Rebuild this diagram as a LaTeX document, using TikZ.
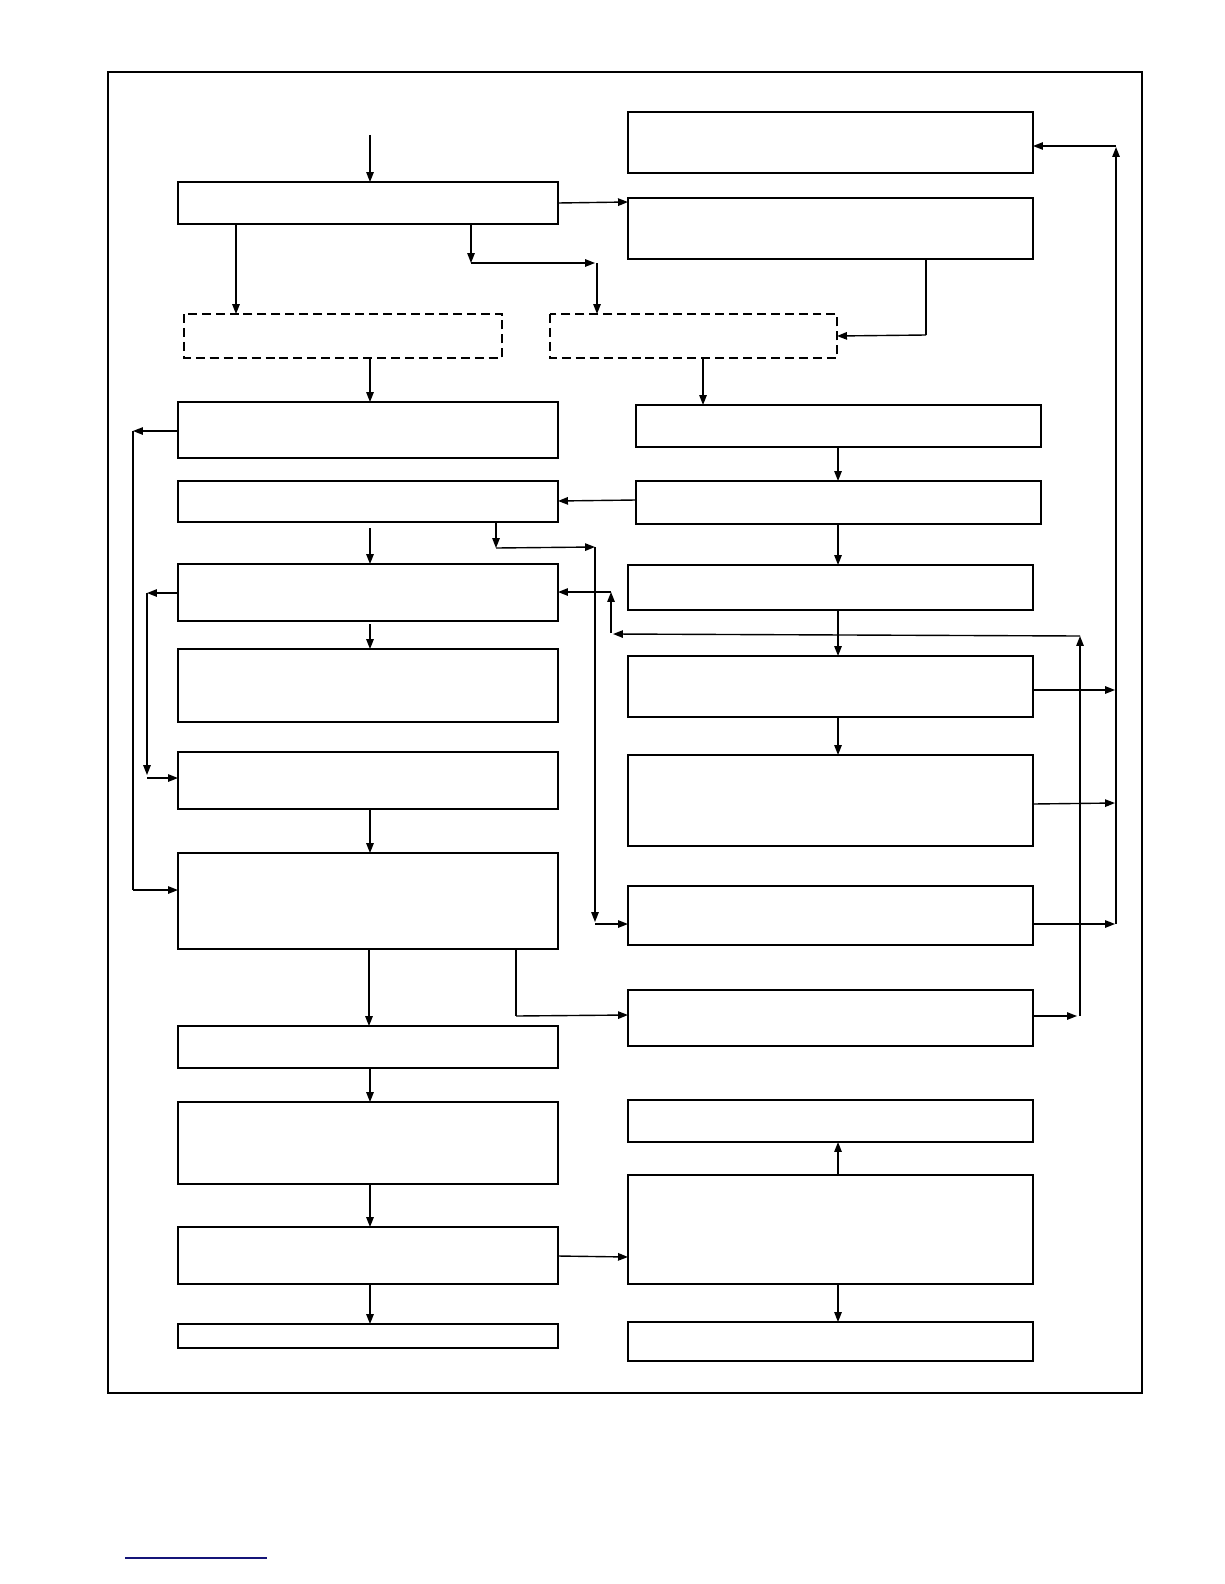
\documentclass[tikz,border=0pt]{standalone}
\usetikzlibrary{arrows.meta}
\begin{document}
\begin{tikzpicture}[x=1bp,y=-1bp,line width=1.6pt,
  bx/.style={draw,line width=1.5pt},
  dbx/.style={draw,line width=1.5pt,dash pattern=on 9pt off 5pt},
  ar/.style={-{Triangle[length=10pt,width=7.5pt]},line width=1.4pt},
  ln/.style={line width=1.4pt}]
\useasboundingbox (0,0) rectangle (1224,1584);
\draw[line width=2pt] (108,72) rectangle (1142,1393);
\draw[line width=2pt,draw={rgb,255:red,20;green,20;blue,120}] (125,1558) -- (267,1558);
% boxes
\foreach \n/\a/\b/\c/\d in {L1/178/182/558/224,L2/178/402/558/458,L3/178/481/558/522,L4/178/564/558/621,L5/178/649/558/722,L6/178/752/558/809,L7/178/853/558/949,L8/178/1026/558/1068,L9/178/1102/558/1184,L10/178/1227/558/1284,L11/178/1324/558/1348,R1/628/112/1033/173,R2/628/198/1033/259,R3/636/405/1041/447,R4/636/481/1041/524,R5/628/565/1033/610,R6/628/656/1033/717,R7/628/755/1033/846,R8/628/886/1033/945,R9/628/990/1033/1046,R10/628/1100/1033/1142,R11/628/1175/1033/1284,R12/628/1322/1033/1361}
  {\draw[bx] (\a,\b) rectangle (\c,\d); \coordinate (\n) at ({(\a+\c)/2},{(\b+\d)/2});}
\draw[dbx] (184,314) rectangle (502,358);
\draw[dbx] (550,314) rectangle (837,358);
% arrows
\draw[ar] (370,135) -- (370,182);
\draw[ar] (558,203) -- (628,202);
\draw[ar] (236,224) -- (236,314);
\draw[ar] (471,224) -- (471,263);
\draw[ar] (471,263) -- (595,263);
\draw[ar] (597,263) -- (597,314);
\draw[ln] (926,259) -- (926,335);
\draw[ar] (926,335) -- (837,336);
\draw[ar] (370,358) -- (370,402);
\draw[ar] (703,358) -- (703,405);
\draw[ar] (178,431) -- (133,431);
\draw[ln] (133,431) -- (133,890);
\draw[ar] (133,890) -- (178,890);
\draw[ar] (838,447) -- (838,481);
\draw[ar] (636,500) -- (558,501);
\draw[ar] (838,524) -- (838,565);
\draw[ar] (370,528) -- (370,564);
\draw[ar] (496,522) -- (496,548);
\draw[ar] (496,548) -- (595,547);
\draw[ar] (595,547) -- (595,922);
\draw[ar] (595,924) -- (628,924);
\draw[ar] (611,592) -- (558,592);
\draw[ar] (611,633) -- (611,592);
\draw[ar] (1080,636) -- (613,634);
\draw[ar] (838,610) -- (838,656);
\draw[ar] (178,593) -- (147,593);
\draw[ar] (147,593) -- (147,775);
\draw[ar] (147,778) -- (178,778);
\draw[ar] (370,624) -- (370,649);
\draw[ar] (838,717) -- (838,755);
\draw[ar] (370,809) -- (370,853);
\draw[ar] (1033,690) -- (1115,690);
\draw[ar] (1033,804) -- (1115,803);
\draw[ar] (1033,924) -- (1115,924);
\draw[ar] (1116,924) -- (1116,147);
\draw[ar] (1116,146) -- (1033,146);
\draw[ar] (1033,1016) -- (1077,1016);
\draw[ar] (1080,1016) -- (1080,636);
\draw[ar] (369,949) -- (369,1026);
\draw[ln] (516,949) -- (516,1016);
\draw[ar] (516,1016) -- (628,1015);
\draw[ar] (370,1068) -- (370,1102);
\draw[ar] (370,1184) -- (370,1227);
\draw[ar] (558,1256) -- (628,1257);
\draw[ar] (370,1284) -- (370,1324);
\draw[ar] (838,1175) -- (838,1142);
\draw[ar] (838,1284) -- (838,1322);
\end{tikzpicture}
\end{document}
